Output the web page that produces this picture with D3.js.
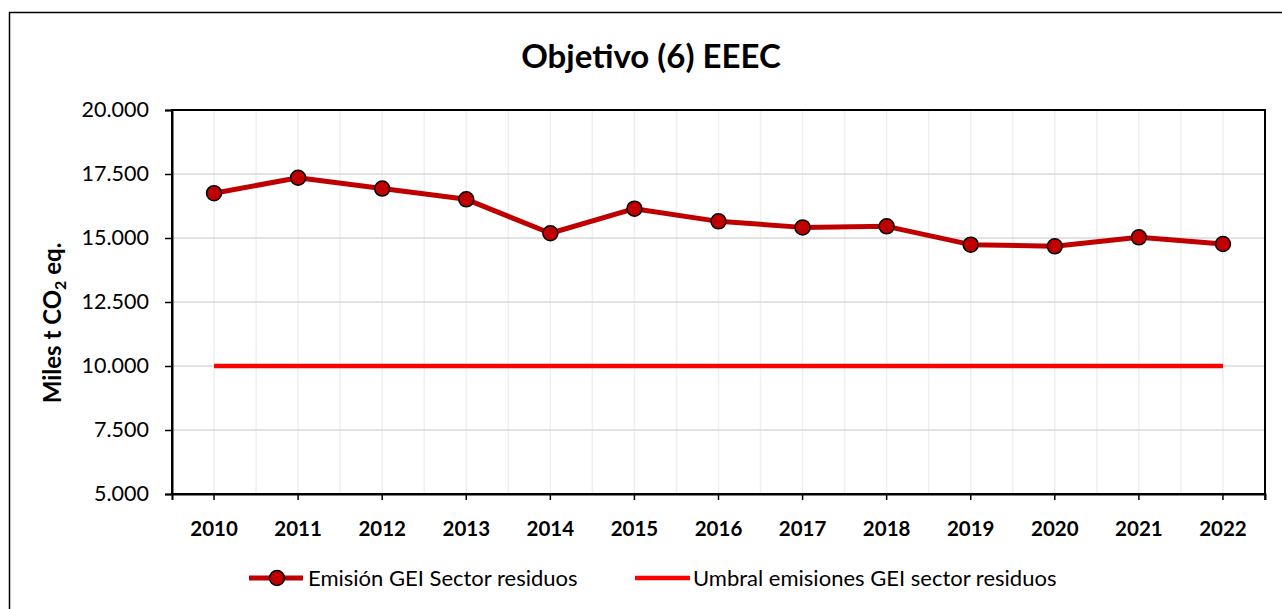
<!DOCTYPE html>
<html>
<head>
<meta charset="utf-8">
<script src="https://cdn.jsdelivr.net/npm/d3@7"></script>
<style>
	body { margin: 0; background: #fff; }
	svg { display: block; font-family: Lato, "Noto Sans", sans-serif; }
</style>
</head>
<body>
<svg width="1282" height="609"></svg>
<script>
const years = ['2010','2011','2012','2013','2014','2015','2016','2017','2018','2019','2020','2021','2022'];
const emisiones = [16750, 17355, 16930, 16510, 15185, 16145, 15650, 15415, 15455, 14740, 14675, 15025, 14765];
const umbral = [10000, 10000, 10000, 10000, 10000, 10000, 10000, 10000, 10000, 10000, 10000, 10000, 10000];
const yTicks = [5000, 7500, 10000, 12500, 15000, 17500, 20000];
const title = 'Objetivo (6) EEEC';
const seriesNames = ['Emisión GEI Sector residuos', 'Umbral emisiones GEI sector residuos'];

const svg = d3.select('svg');
const pLeft = 172, pRight = 1265, pTop = 110, pBottom = 494;

const locale = d3.formatLocale({decimal: ',', thousands: '.', grouping: [3], currency: ['', '€']});
const fmt = locale.format(',.0f');

const x = d3.scaleBand().domain(years).range([pLeft, pRight]).padding(0);
const y = d3.scaleLinear().domain([5000, 20000]).range([pBottom, pTop]);
const cx = d => x(d) + x.bandwidth() / 2;

// outer chart border
svg.append('path')
	.attr('d', `M9.5,${609 + 2} V12.5 H${1282 + 2}`)
	.attr('fill', 'none').attr('stroke', '#000').attr('stroke-width', 1.5);

// vertical gridlines (centres and boundaries)
const vLines = [];
years.forEach(d => { vLines.push(x(d)); vLines.push(cx(d)); });
svg.append('g').selectAll('line').data(vLines.slice(1)).enter().append('line')
	.attr('x1', d => d).attr('x2', d => d).attr('y1', pTop).attr('y2', pBottom)
	.attr('stroke', '#efefef').attr('stroke-width', 1.5);

// horizontal gridlines
svg.append('g').selectAll('line').data(yTicks.slice(1, -1)).enter().append('line')
	.attr('x1', pLeft).attr('x2', pRight).attr('y1', d => y(d)).attr('y2', d => y(d))
	.attr('stroke', '#d9d9d9').attr('stroke-width', 1.5);

// plot border
svg.append('rect')
	.attr('x', pLeft).attr('y', pTop).attr('width', pRight - pLeft).attr('height', pBottom - pTop)
	.attr('fill', 'none').attr('stroke', '#000').attr('stroke-width', 2);

// y axis
const yAxis = svg.append('g').attr('transform', `translate(${pLeft},0)`)
	.call(d3.axisLeft(y).tickValues(yTicks).tickFormat(fmt).tickSize(7).tickPadding(16));
yAxis.select('.domain').attr('stroke-width', 2);
yAxis.selectAll('line').attr('stroke-width', 1.5);
yAxis.selectAll('text').attr('font-size', 21.5).attr('fill', '#000').attr('font-family', 'Lato');

// x axis
const xAxis = svg.append('g').attr('transform', `translate(0,${pBottom})`)
	.call(d3.axisBottom(x).tickSize(6).tickPadding(21));
xAxis.select('.domain').attr('stroke-width', 2);
xAxis.selectAll('line').attr('stroke-width', 1.5);
xAxis.selectAll('text').attr('font-size', 20.5).attr('font-weight', 'bold').attr('fill', '#000').attr('font-family', 'Lato');
xAxis.append('line').attr('x1', pRight).attr('x2', pRight).attr('y1', 0).attr('y2', 6)
	.attr('stroke', '#000').attr('stroke-width', 1.5);

// threshold line
const line = d3.line().x((d, i) => cx(years[i])).y(d => y(d));
svg.append('path').datum(umbral)
	.attr('d', line).attr('fill', 'none').attr('stroke', '#ff0000').attr('stroke-width', 4.5);

// emissions line
svg.append('path').datum(emisiones)
	.attr('d', line).attr('fill', 'none').attr('stroke', '#c00000').attr('stroke-width', 5)
	.attr('stroke-linejoin', 'round');
svg.append('g').selectAll('circle').data(emisiones).enter().append('circle')
	.attr('cx', (d, i) => cx(years[i])).attr('cy', d => y(d)).attr('r', 7.5)
	.attr('fill', '#c00000').attr('stroke', '#000').attr('stroke-width', 1.5);

// title
svg.append('text').attr('x', 651).attr('y', 68).attr('text-anchor', 'middle')
	.attr('font-size', 33).attr('font-weight', 'bold').text(title);

// y axis title
const yt = svg.append('text').attr('transform', 'translate(61,323) rotate(-90)')
	.attr('text-anchor', 'middle').attr('font-size', 24).attr('font-weight', 'bold');
yt.append('tspan').text('Miles t CO');
yt.append('tspan').attr('font-size', 16).attr('dy', 5).text('2');
yt.append('tspan').attr('dy', -5).text(' eq.');

// legend
const lg = svg.append('g').attr('transform', 'translate(0,578)');
lg.append('line').attr('x1', 249).attr('x2', 303).attr('y1', 0).attr('y2', 0)
	.attr('stroke', '#c00000').attr('stroke-width', 5);
lg.append('circle').attr('cx', 277).attr('cy', 0).attr('r', 7.5)
	.attr('fill', '#c00000').attr('stroke', '#000').attr('stroke-width', 1.5);
lg.append('text').attr('x', 308).attr('y', 7.5).attr('font-size', 22).text(seriesNames[0]);
lg.append('line').attr('x1', 635).attr('x2', 690).attr('y1', 0).attr('y2', 0)
	.attr('stroke', '#ff0000').attr('stroke-width', 4.5);
lg.append('text').attr('x', 693).attr('y', 7.5).attr('font-size', 22).text(seriesNames[1]);
</script>
</body>
</html>
